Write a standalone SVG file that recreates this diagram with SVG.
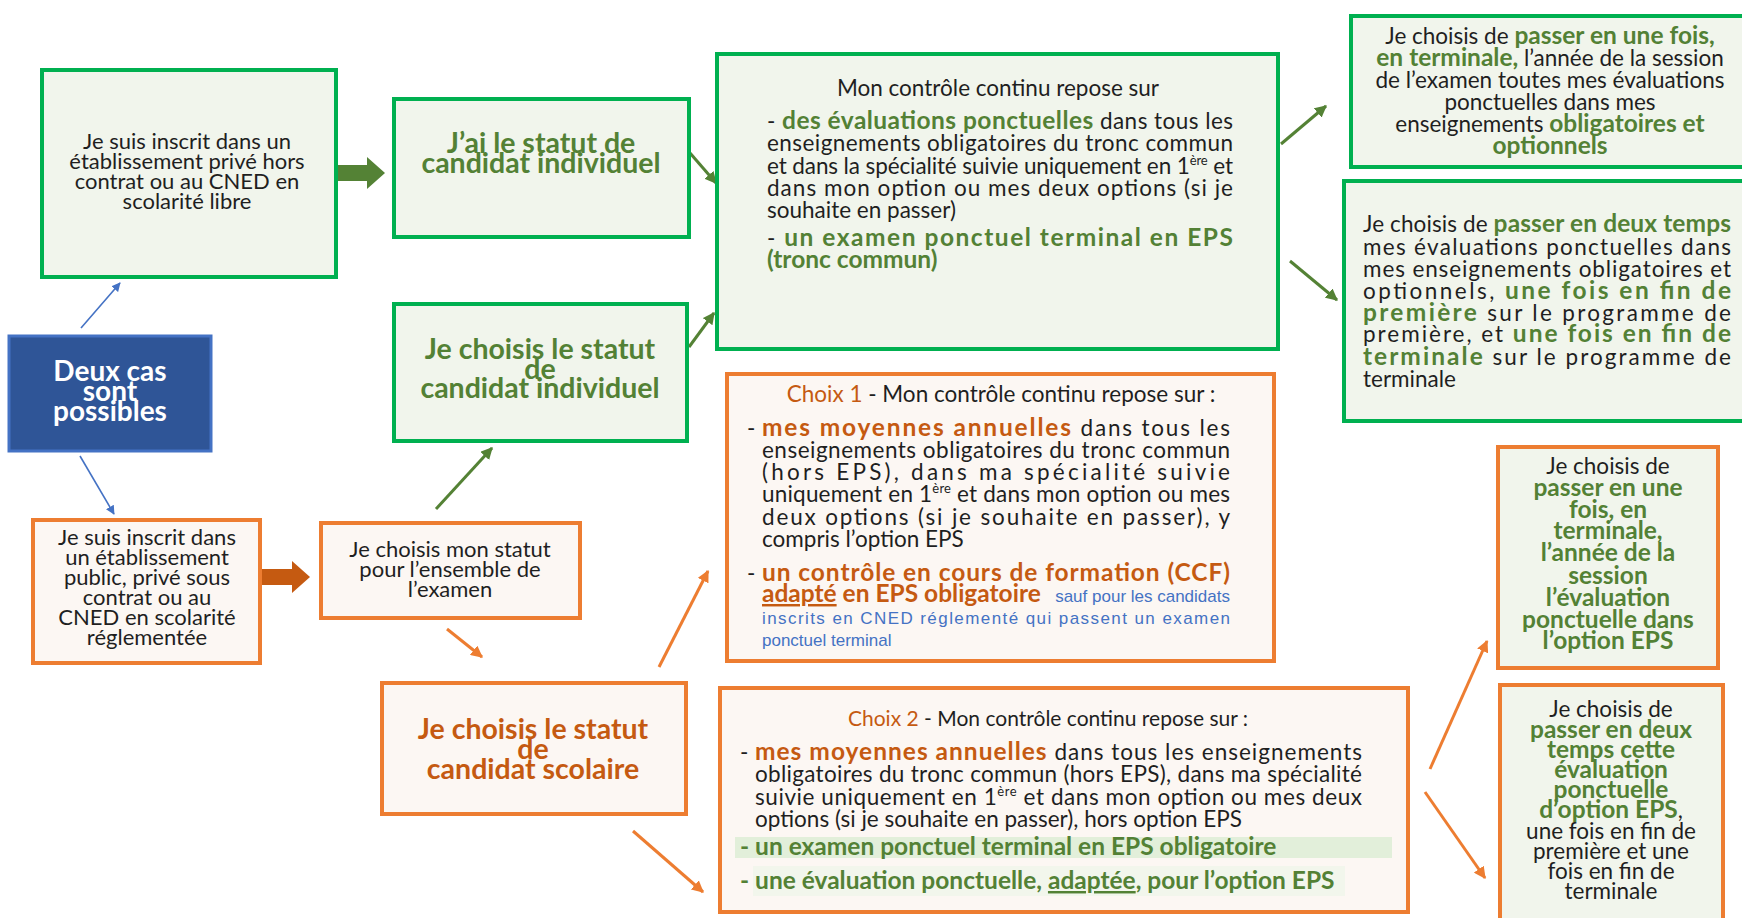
<svg xmlns="http://www.w3.org/2000/svg" width="1742" height="918" viewBox="0 0 1742 918">
<defs>
<style>
.t{font-family:Lato,'Liberation Sans',sans-serif;font-size:22.5px;fill:#1f1f1f}
.c{text-anchor:middle}
.g{fill:#538135;font-weight:bold;font-size:24.5px}
.o{fill:#c55a11;font-weight:bold;font-size:24.5px}
.bl{font-family:'Liberation Sans',Arial,sans-serif;font-size:17px;fill:#4472c4;font-weight:normal}
.gb{fill:#f1f5ec;stroke:#00b050;stroke-width:4}
.ob{fill:#fcf7f3;stroke:#ed7d31;stroke-width:4}
.og{fill:#f1f5ec;stroke:#ed7d31;stroke-width:4}
.big{font-size:28.5px;font-weight:bold}
.sup{font-size:13px}
.ab{stroke:#4472c4;stroke-width:1.6;fill:none}
.ag{stroke:#548235;stroke-width:3;fill:none}
.ao{stroke:#ed7d31;stroke-width:3;fill:none}
</style>
<marker id="mb" viewBox="0 0 10 10" refX="9" refY="5" markerWidth="9" markerHeight="9" markerUnits="userSpaceOnUse" orient="auto"><path d="M0,0 L10,5 L0,10 z" fill="#4472c4"/></marker>
<marker id="mg" viewBox="0 0 10 10" refX="9" refY="5" markerWidth="12" markerHeight="12" markerUnits="userSpaceOnUse" orient="auto"><path d="M0,0 L10,5 L0,10 z" fill="#548235"/></marker>
<marker id="mo" viewBox="0 0 10 10" refX="9" refY="5" markerWidth="12" markerHeight="12" markerUnits="userSpaceOnUse" orient="auto"><path d="M0,0 L10,5 L0,10 z" fill="#ed7d31"/></marker>
</defs>
<rect width="1742" height="918" fill="#ffffff"/>

<g id="connectors">
<line class="ab" x1="81" y1="328" x2="120" y2="283" marker-end="url(#mb)"/>
<line class="ab" x1="80" y1="456" x2="114" y2="514" marker-end="url(#mb)"/>
<polygon points="338,165 367,165 367,157 385,173 367,189 367,181 338,181" fill="#548235"/>
<polygon points="262,569 292,569 292,561 310,577 292,593 292,585 262,585" fill="#c55a11"/>
<line class="ag" x1="690" y1="153" x2="716" y2="183" marker-end="url(#mg)"/>
<line class="ag" x1="689" y1="347" x2="714" y2="313" marker-end="url(#mg)"/>
<line class="ag" x1="1281" y1="144" x2="1326" y2="106" marker-end="url(#mg)"/>
<line class="ag" x1="1290" y1="261" x2="1337" y2="300" marker-end="url(#mg)"/>
<line class="ag" x1="436" y1="509" x2="492" y2="448" marker-end="url(#mg)"/>
<line class="ao" x1="447" y1="629" x2="482" y2="657" marker-end="url(#mo)"/>
<line class="ao" x1="659" y1="667" x2="708" y2="571" marker-end="url(#mo)"/>
<line class="ao" x1="633" y1="831" x2="703" y2="892" marker-end="url(#mo)"/>
<line class="ao" x1="1430" y1="769" x2="1487" y2="641" marker-end="url(#mo)"/>
<line class="ao" x1="1425" y1="792" x2="1485" y2="878" marker-end="url(#mo)"/>
</g>

<g id="deux-cas">
<rect x="9" y="336" width="202" height="115" fill="#2f5597" stroke="#4472c4" stroke-width="3"/>
<text class="t c" style="font-size:28px;font-weight:bold;fill:#fff"><tspan x="110" y="381">Deux cas</tspan><tspan x="110" y="401">sont</tspan><tspan x="110" y="421">possibles</tspan></text>
</g>

<g id="prive-hors-contrat">
<rect class="gb" x="42" y="70" width="294" height="207"/>
<text class="t c" style="font-size:22px"><tspan x="187" y="149">Je suis inscrit dans un</tspan><tspan x="187" y="169">établissement privé hors</tspan><tspan x="187" y="189">contrat ou au CNED en</tspan><tspan x="187" y="209">scolarité libre</tspan></text>
</g>

<g id="statut-individuel">
<rect class="gb" x="394" y="99" width="295" height="138"/>
<text class="t c g big"><tspan x="541" y="153">J’ai le statut de</tspan><tspan x="541" y="173">candidat individuel</tspan></text>
</g>

<g id="choix-individuel">
<rect class="gb" x="394" y="304" width="293" height="137"/>
<text class="t c g big"><tspan x="540" y="359">Je choisis le statut</tspan><tspan x="540" y="379">de</tspan><tspan x="540" y="398">candidat individuel</tspan></text>
</g>

<g id="controle-individuel">
<rect class="gb" x="717" y="54" width="561" height="295"/>
<text class="t c" x="998" y="96">Mon contrôle continu repose sur</text>
<text class="t" x="767" y="129" textLength="466" lengthAdjust="spacing">- <tspan class="g">des évaluations ponctuelles</tspan> dans tous les</text>
<text class="t" x="767" y="151" textLength="466" lengthAdjust="spacing">enseignements obligatoires du tronc commun</text>
<text class="t" x="767" y="174" textLength="466" lengthAdjust="spacing">et dans la spécialité suivie uniquement en 1<tspan class="sup" dy="-9">ère</tspan><tspan dy="9"> et</tspan></text>
<text class="t" x="767" y="196" textLength="466" lengthAdjust="spacing">dans mon option ou mes deux options (si je</text>
<text class="t" x="767" y="218">souhaite en passer)</text>
<text class="t" x="767" y="246" textLength="466" lengthAdjust="spacing">- <tspan class="g">un examen ponctuel terminal en EPS</tspan></text>
<text class="t g" x="767" y="268">(tronc commun)</text>
</g>

<g id="une-fois">
<rect class="gb" x="1351" y="16" width="410" height="151"/>
<text class="t c"><tspan x="1550" y="44">Je choisis de <tspan class="g">passer en une fois,</tspan></tspan><tspan x="1550" y="66"><tspan class="g">en terminale,</tspan> l’année de la session</tspan><tspan x="1550" y="88">de l’examen toutes mes évaluations</tspan><tspan x="1550" y="110">ponctuelles dans mes</tspan><tspan x="1550" y="132">enseignements <tspan class="g">obligatoires et</tspan></tspan><tspan x="1550" y="154" class="g">optionnels</tspan></text>
</g>

<g id="deux-temps">
<rect class="gb" x="1344" y="181" width="417" height="240"/>
<text class="t" x="1363" y="232" textLength="368" lengthAdjust="spacing">Je choisis de <tspan class="g">passer en deux temps</tspan></text>
<text class="t" x="1363" y="255" textLength="368" lengthAdjust="spacing">mes évaluations ponctuelles dans</text>
<text class="t" x="1363" y="277" textLength="368" lengthAdjust="spacing">mes enseignements obligatoires et</text>
<text class="t" x="1363" y="299" textLength="368" lengthAdjust="spacing">optionnels, <tspan class="g">une fois en fin de</tspan></text>
<text class="t" x="1363" y="321" textLength="368" lengthAdjust="spacing"><tspan class="g">première</tspan> sur le programme de</text>
<text class="t" x="1363" y="342" textLength="368" lengthAdjust="spacing">première, et <tspan class="g">une fois en fin de</tspan></text>
<text class="t" x="1363" y="365" textLength="368" lengthAdjust="spacing"><tspan class="g">terminale</tspan> sur le programme de</text>
<text class="t" x="1363" y="387">terminale</text>
</g>

<g id="public-prive-contrat">
<rect class="ob" x="33" y="520" width="227" height="143"/>
<text class="t c" style="font-size:22px"><tspan x="147" y="545">Je suis inscrit dans</tspan><tspan x="147" y="565">un établissement</tspan><tspan x="147" y="585">public, privé sous</tspan><tspan x="147" y="605">contrat ou au</tspan><tspan x="147" y="625">CNED en scolarité</tspan><tspan x="147" y="645">réglementée</tspan></text>
</g>

<g id="choix-statut">
<rect class="ob" x="321" y="523" width="259" height="95"/>
<text class="t c" style="font-size:22px"><tspan x="450" y="557">Je choisis mon statut</tspan><tspan x="450" y="577">pour l’ensemble de</tspan><tspan x="450" y="597">l’examen</tspan></text>
</g>

<g id="statut-scolaire">
<rect class="ob" x="382" y="683" width="304" height="131"/>
<text class="t c o big"><tspan x="533" y="739">Je choisis le statut</tspan><tspan x="533" y="759">de</tspan><tspan x="533" y="779">candidat scolaire</tspan></text>
</g>

<g id="choix1">
<rect class="ob" x="727" y="374" width="547" height="287"/>
<text class="t c" x="1001" y="402"><tspan style="fill:#c55a11">Choix 1</tspan> - Mon contrôle continu repose sur :</text>
<text class="t" x="747" y="436">-</text>
<text class="t" x="762" y="436" textLength="468" lengthAdjust="spacing"><tspan class="o">mes moyennes annuelles</tspan> dans tous les</text>
<text class="t" x="762" y="458" textLength="468" lengthAdjust="spacing">enseignements obligatoires du tronc commun</text>
<text class="t" x="762" y="480" textLength="468" lengthAdjust="spacing">(hors EPS), dans ma spécialité suivie</text>
<text class="t" x="762" y="502" textLength="468" lengthAdjust="spacing">uniquement en 1<tspan class="sup" dy="-9">ère</tspan><tspan dy="9"> et dans mon option ou mes</tspan></text>
<text class="t" x="762" y="525" textLength="468" lengthAdjust="spacing">deux options (si je souhaite en passer), y</text>
<text class="t" x="762" y="547">compris l’option EPS</text>
<text class="t" x="747" y="581">-</text>
<text class="t o" x="762" y="581" textLength="468" lengthAdjust="spacing">un contrôle en cours de formation (CCF)</text>
<text class="t o" x="762" y="602"><tspan style="text-decoration:underline">adapté</tspan> en EPS obligatoire</text>
<text class="bl" x="1230" y="602" text-anchor="end">sauf pour les candidats</text>
<text class="bl" x="762" y="624" textLength="468" lengthAdjust="spacing">inscrits en CNED réglementé qui passent un examen</text>
<text class="bl" x="762" y="646">ponctuel terminal</text>
</g>

<g id="choix2">
<rect class="ob" x="720" y="688" width="688" height="224"/>
<rect x="735" y="837" width="657" height="21" fill="#e2efda"/>
<rect x="753" y="866" width="592" height="30" fill="#f2f6ec"/>
<text class="t c" x="1048" y="726" style="font-size:21px"><tspan style="fill:#c55a11">Choix 2</tspan> - Mon contrôle continu repose sur :</text>
<text class="t" x="740" y="760">-</text>
<text class="t" x="755" y="760" textLength="607" lengthAdjust="spacing"><tspan class="o">mes moyennes annuelles</tspan> dans tous les enseignements</text>
<text class="t" x="755" y="782" textLength="607" lengthAdjust="spacing">obligatoires du tronc commun (hors EPS), dans ma spécialité</text>
<text class="t" x="755" y="805" textLength="607" lengthAdjust="spacing">suivie uniquement en 1<tspan class="sup" dy="-9">ère</tspan><tspan dy="9"> et dans mon option ou mes deux</tspan></text>
<text class="t" x="755" y="827">options (si je souhaite en passer), hors option EPS</text>
<text class="t g" x="740" y="855">- un examen ponctuel terminal en EPS obligatoire</text>
<text class="t g" x="740" y="889">- une évaluation ponctuelle, <tspan style="text-decoration:underline">adaptée</tspan>, pour l’option EPS</text>
</g>

<g id="option-une-fois">
<rect class="og" x="1498" y="447" width="220" height="221"/>
<text class="t c"><tspan x="1608" y="474">Je choisis de</tspan><tspan x="1608" y="496" class="g">passer en une</tspan><tspan x="1608" y="518" class="g">fois, en</tspan><tspan x="1608" y="539" class="g">terminale,</tspan><tspan x="1608" y="561" class="g">l’année de la</tspan><tspan x="1608" y="584" class="g">session</tspan><tspan x="1608" y="606" class="g">l’évaluation</tspan><tspan x="1608" y="628" class="g">ponctuelle dans</tspan><tspan x="1608" y="649" class="g">l’option EPS</tspan></text>
</g>

<g id="option-deux-temps">
<rect class="og" x="1500" y="685" width="223" height="240"/>
<text class="t c"><tspan x="1611" y="717">Je choisis de</tspan><tspan x="1611" y="738" class="g">passer en deux</tspan><tspan x="1611" y="758" class="g">temps cette</tspan><tspan x="1611" y="778" class="g">évaluation</tspan><tspan x="1611" y="798" class="g">ponctuelle</tspan><tspan x="1611" y="818"><tspan class="g">d’option EPS</tspan>,</tspan><tspan x="1611" y="839">une fois en fin de</tspan><tspan x="1611" y="859">première et une</tspan><tspan x="1611" y="879">fois en fin de</tspan><tspan x="1611" y="899">terminale</tspan></text>
</g>
</svg>
